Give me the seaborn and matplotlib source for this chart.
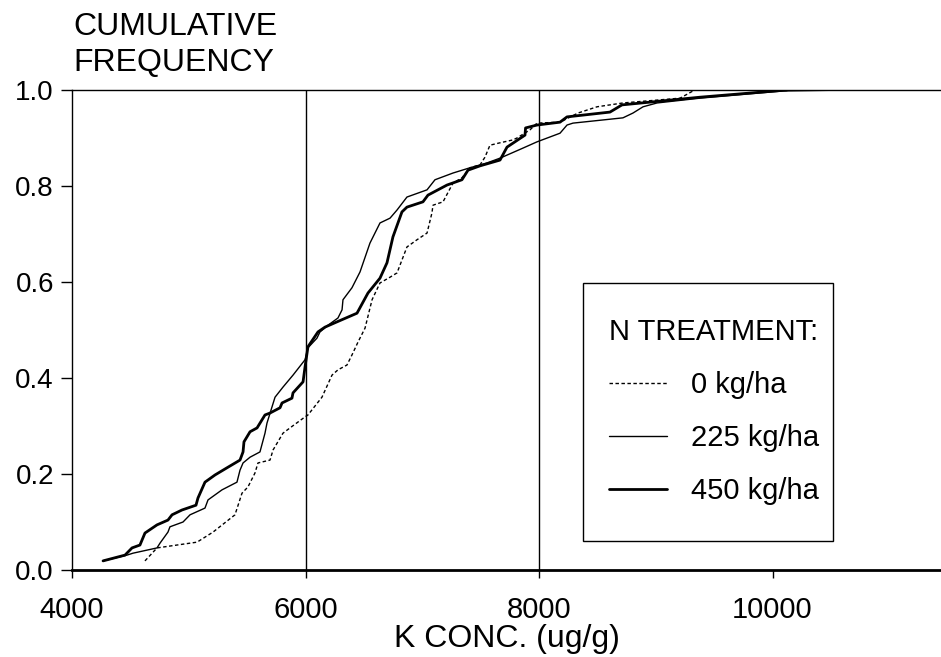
import numpy as np
import pandas as pd
import matplotlib
matplotlib.use("Agg")
import matplotlib.pyplot as plt
import seaborn as sns
from matplotlib.patches import Rectangle
from matplotlib.ticker import FormatStrFormatter

# K concentration (ug/g) vs cumulative frequency
k_0 = [4625, 4728, 4899, 5071, 5208, 5396, 5456, 5507, 5567, 5593,
       5696, 5722, 5807, 5867, 5996, 6021, 6141, 6227, 6278, 6355,
       6398, 6450, 6510, 6570, 6638, 6724, 6784, 6869, 6955, 7041,
       7083, 7092, 7178, 7263, 7340, 7409, 7495, 7537, 7580, 7666,
       7777, 7811, 7923, 7983, 8180, 8334, 8497, 8719, 9208, 9319]
f_0 = [0.019, 0.046, 0.052, 0.058, 0.079, 0.115, 0.160, 0.173, 0.202, 0.223,
       0.229, 0.250, 0.285, 0.296, 0.319, 0.323, 0.360, 0.406, 0.417, 0.427,
       0.448, 0.475, 0.504, 0.563, 0.598, 0.610, 0.619, 0.673, 0.688, 0.702,
       0.744, 0.760, 0.767, 0.806, 0.817, 0.838, 0.844, 0.860, 0.885, 0.890,
       0.896, 0.900, 0.917, 0.931, 0.933, 0.952, 0.965, 0.973, 0.983, 0.998]

k_225 = [4266, 4471, 4522, 4728, 4754, 4822, 4839, 4951, 5011, 5139,
         5165, 5285, 5413, 5439, 5465, 5525, 5610, 5653, 5670, 5739,
         5807, 5893, 5996, 6021, 6098, 6124, 6193, 6278, 6313, 6321,
         6398, 6467, 6552, 6638, 6724, 6784, 6869, 7041, 7109, 7263,
         7409, 7554, 7666, 7863, 7983, 8180, 8240, 8291, 8719, 8805,
         8891, 9011, 9379, 10090, 10664]
f_225 = [0.019, 0.031, 0.035, 0.046, 0.056, 0.079, 0.090, 0.100, 0.115, 0.129,
         0.146, 0.167, 0.183, 0.208, 0.223, 0.235, 0.246, 0.285, 0.306, 0.360,
         0.381, 0.406, 0.438, 0.463, 0.483, 0.496, 0.510, 0.525, 0.542, 0.563,
         0.588, 0.621, 0.681, 0.723, 0.733, 0.750, 0.777, 0.792, 0.813, 0.827,
         0.838, 0.848, 0.858, 0.879, 0.892, 0.910, 0.927, 0.931, 0.942, 0.952,
         0.965, 0.973, 0.983, 0.998, 1.0]

k_450 = [4266, 4454, 4514, 4582, 4625, 4728, 4822, 4857, 4942, 5062,
         5079, 5139, 5225, 5328, 5439, 5465, 5473, 5525, 5585, 5653,
         5696, 5782, 5799, 5884, 5893, 5979, 5996, 6021, 6107, 6167,
         6270, 6441, 6535, 6638, 6698, 6749, 6826, 6869, 7006, 7049,
         7212, 7340, 7392, 7495, 7666, 7726, 7880, 7885, 7983, 8180,
         8240, 8608, 8711, 9379, 10124]
f_450 = [0.019, 0.031, 0.046, 0.052, 0.077, 0.094, 0.104, 0.115, 0.125, 0.135,
         0.150, 0.183, 0.198, 0.213, 0.229, 0.246, 0.267, 0.288, 0.296, 0.323,
         0.327, 0.338, 0.348, 0.358, 0.369, 0.392, 0.423, 0.465, 0.496, 0.506,
         0.517, 0.535, 0.577, 0.608, 0.640, 0.694, 0.746, 0.756, 0.767, 0.781,
         0.802, 0.813, 0.833, 0.842, 0.854, 0.881, 0.906, 0.921, 0.927, 0.933,
         0.944, 0.954, 0.969, 0.985, 1.0]

labels = ["0 kg/ha", "225 kg/ha", "450 kg/ha"]
x_ticks = [4000, 6000, 8000, 10000]
y_ticks = [0.0, 0.2, 0.4, 0.6, 0.8, 1.0]

sns.set_style("white")
plt.rcParams['font.family'] = ['Liberation Sans', 'DejaVu Sans']
plt.rcParams['text.color'] = 'black'
plt.rcParams['axes.labelcolor'] = 'black'
plt.rcParams['xtick.color'] = 'black'
plt.rcParams['ytick.color'] = 'black'

fig = plt.figure(figsize=(9.41, 6.57), dpi=100)
ax = fig.add_axes([72 / 941, 1 - 570 / 657, 1 - 72 / 941, 480 / 657])

series = [
    (k_0, f_0, labels[0], (0, (2.5, 1.8)), 1.0),
    (k_225, f_225, labels[1], "-", 1.0),
    (k_450, f_450, labels[2], "-", 2.0),
]
for k, f, lab, ls, lw in series:
    sns.lineplot(x=k, y=f, ax=ax, color="black", linewidth=lw, linestyle=ls,
                 sort=False, estimator=None, label=lab)

# vertical reference lines
ax.axvline(6000, color="black", lw=1.0, zorder=1)
ax.axvline(8000, color="black", lw=1.0, zorder=1)

ax.set_xlim(4000, 4000 + 869 * 2000 / 233.5)
ax.set_ylim(0, 1)
ax.set_xticks(x_ticks)
ax.set_yticks(y_ticks)
ax.yaxis.set_major_formatter(FormatStrFormatter("%.1f"))

for side in ["top", "left"]:
    ax.spines[side].set_color("black")
    ax.spines[side].set_linewidth(1.0)
ax.spines["bottom"].set_color("black")
ax.spines["bottom"].set_linewidth(2.0)
ax.spines["right"].set_visible(False)

ax.tick_params(axis="x", direction="out", length=6, width=1, color="black",
               labelsize=21, pad=13, bottom=True, labelcolor="black")
ax.tick_params(axis="y", direction="out", length=8, width=1, color="black",
               labelsize=20, pad=5, left=True, labelcolor="black")

ax.set_xlabel("K CONC. (ug/g)", fontsize=23, labelpad=0, color="black")
ax.set_ylabel("")
fig.text(73 / 941, 1 - 12 / 657, "CUMULATIVE\nFREQUENCY", fontsize=23,
         va="top", ha="left", linespacing=1.28, color="black")

# legend box drawn as a plain rectangle, legend content without frame
box_x0 = (583 - 72) / 869
box_y0 = (570 - 541) / 480
box = Rectangle((box_x0, box_y0), (833 - 583) / 869, (541 - 283) / 480,
                transform=ax.transAxes, facecolor="white", edgecolor="black",
                lw=1.0, zorder=4)
ax.add_patch(box)

handles, labs = ax.get_legend_handles_labels()
leg = ax.legend(handles, labs, title="N TREATMENT:", loc="upper left",
                bbox_to_anchor=((609 - 72) / 869, (570 - 318) / 480),
                frameon=False, fontsize=21, title_fontsize=21,
                handlelength=2.0, handletextpad=0.8, labelspacing=0.86,
                borderpad=0, borderaxespad=0, alignment="left")
leg.set_zorder(5)
for t in leg.get_texts():
    t.set_color("black")
leg.get_title().set_color("black")

fig.savefig("out.png", dpi=100)
